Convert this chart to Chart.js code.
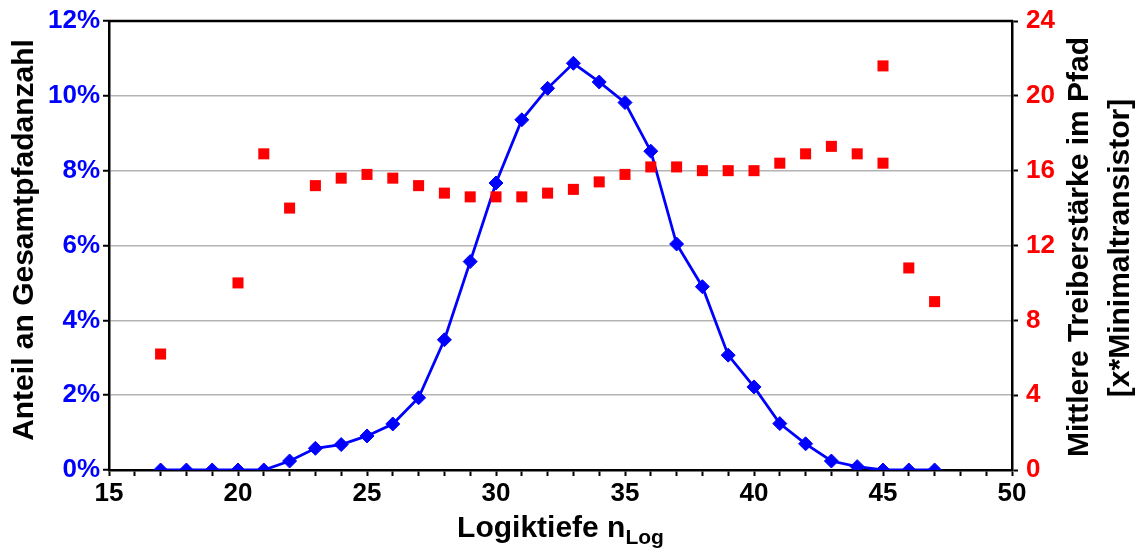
<!DOCTYPE html>
<html>
<head>
<meta charset="utf-8">
<script src="https://cdn.jsdelivr.net/npm/chart.js@4/dist/chart.umd.min.js"></script>
<style>
html,body{margin:0;padding:0;background:#fff;}
#wrap{width:1141px;height:549px;position:relative;}
</style>
</head>
<body>
<div id="wrap"><canvas id="c" width="1141" height="549"></canvas></div>
<script>
// Data
const depths = [17,18,19,20,21,22,23,24,25,26,27,28,29,30,31,32,33,34,35,36,37,38,39,40,41,42,43,44,45,46,47];
const shareValues = [0,0,0,0,0,0.0024,0.0058,0.0068,0.0091,0.0123,0.0193,0.0348,0.0557,0.0767,0.0936,0.1020,0.1087,0.1037,0.0982,0.0852,0.0604,0.0490,0.0307,0.0222,0.0124,0.0070,0.0024,0.0009,0,0,0];
const driverDepths = [17,20,21,22,23,24,25,26,27,28,29,30,31,32,33,34,35,36,37,38,39,40,41,42,43,44,45,45,46,47];
const driverValues = [6.2,10.0,16.9,14.0,15.2,15.6,15.8,15.6,15.2,14.8,14.6,14.6,14.6,14.8,15.0,15.4,15.8,16.2,16.2,16.0,16.0,16.0,16.4,16.9,17.3,16.9,16.4,21.6,10.8,9.0];
const xLabelSteps = [15,20,25,30,35,40,45,50];

const FONT = "'Liberation Sans', Arial, sans-serif";

const titlePlugin = {
  id: 'titles',
  afterDraw(chart) {
    const ctx = chart.ctx;
    const a = chart.chartArea;
    ctx.save();
    // top border
    ctx.strokeStyle = '#000';
    ctx.lineWidth = 2.5;
    ctx.beginPath();
    ctx.moveTo(a.left - 1, a.top);
    ctx.lineTo(a.right + 1, a.top);
    ctx.stroke();
    ctx.fillStyle = '#000';
    ctx.textAlign = 'center';
    ctx.textBaseline = 'middle';
    // left title
    ctx.save();
    ctx.translate(25, 240);
    ctx.rotate(-Math.PI / 2);
    ctx.font = 'bold 30px ' + FONT;
    ctx.fillText('Anteil an Gesamtpfadanzahl', 0, 0);
    ctx.restore();
    // right titles
    ctx.save();
    ctx.translate(1080, 247);
    ctx.rotate(-Math.PI / 2);
    ctx.font = 'bold 30px ' + FONT;
    ctx.fillText('Mittlere Treiberstärke im Pfad', 0, 0);
    ctx.restore();
    ctx.save();
    ctx.translate(1121, 248);
    ctx.rotate(-Math.PI / 2);
    ctx.font = 'bold 30px ' + FONT;
    ctx.fillText('[x*Minimaltransistor]', 0, 0);
    ctx.restore();
    // x title with subscript
    ctx.textAlign = 'left';
    ctx.textBaseline = 'alphabetic';
    const main = 'Logiktiefe n';
    const sub = 'Log';
    ctx.font = 'bold 30px ' + FONT;
    const w1 = ctx.measureText(main).width;
    ctx.font = 'bold 21px ' + FONT;
    const w2 = ctx.measureText(sub).width;
    const cx = (a.left + a.right) / 2;
    const x0 = cx - (w1 + w2) / 2;
    ctx.font = 'bold 30px ' + FONT;
    ctx.fillText(main, x0, 537);
    ctx.font = 'bold 21px ' + FONT;
    ctx.fillText(sub, x0 + w1, 544);
    ctx.restore();
  }
};

new Chart(document.getElementById('c'), {
  data: {
    datasets: [
      {
        type: 'line',
        label: 'Anteil',
        data: depths.map((d, i) => ({x: d, y: shareValues[i]})),
        yAxisID: 'y',
        borderColor: '#0000ff',
        backgroundColor: '#0000ff',
        borderWidth: 2.8,
        pointStyle: 'rectRot',
        pointRadius: 7,
        pointBorderWidth: 1,
        tension: 0,
        order: 2
      },
      {
        type: 'scatter',
        label: 'Treiberstärke',
        data: driverDepths.map((d, i) => ({x: d, y: driverValues[i]})),
        yAxisID: 'y1',
        borderColor: '#ff0000',
        backgroundColor: '#ff0000',
        pointStyle: 'rect',
        pointRadius: 7.8,
        pointBorderWidth: 0,
        showLine: false,
        order: 1
      }
    ]
  },
  options: {
    responsive: false,
    animation: false,
    devicePixelRatio: 1,
    layout: { padding: { top: 20, left: 0, right: 0, bottom: 0 } },
    plugins: { legend: { display: false }, tooltip: { enabled: false } },
    scales: {
      x: {
        type: 'linear',
        min: 15,
        max: 50,
        afterFit(s) { s.height = 79; },
        afterBuildTicks(s) {
          const t = [];
          for (let v = 15; v <= 50; v++) t.push({value: v});
          s.ticks = t;
        },
        ticks: {
          autoSkip: false,
          maxRotation: 0,
          padding: 5,
          color: '#000',
          font: { family: FONT, size: 26, weight: 'bold', lineHeight: 1 },
          callback: v => xLabelSteps.includes(v) ? String(v) : ''
        },
        grid: { drawOnChartArea: false, drawTicks: true, tickLength: 6, tickColor: '#000', tickWidth: 2 },
        border: { color: '#000', width: 2.5 }
      },
      y: {
        position: 'left',
        min: 0,
        max: 0.12,
        afterFit(s) { s.width = 109; },
        ticks: {
          stepSize: 0.02,
          padding: 3,
          color: '#0000ff',
          font: { family: FONT, size: 26, weight: 'bold', lineHeight: 1 },
          callback: v => Math.round(v * 100) + '%'
        },
        grid: { color: '#b4b4b4', lineWidth: 1.5, tickLength: 6, tickColor: '#000', tickWidth: 2 },
        border: { color: '#000', width: 2.5 }
      },
      y1: {
        position: 'right',
        min: 0,
        max: 24,
        afterFit(s) { s.width = 129; },
        ticks: {
          stepSize: 4,
          padding: 8,
          color: '#ff0000',
          font: { family: FONT, size: 26, weight: 'bold', lineHeight: 1 }
        },
        grid: { drawOnChartArea: false, tickLength: 6, tickColor: '#000', tickWidth: 2 },
        border: { color: '#000', width: 2.5 }
      }
    }
  },
  plugins: [titlePlugin]
});
</script>
</body>
</html>
